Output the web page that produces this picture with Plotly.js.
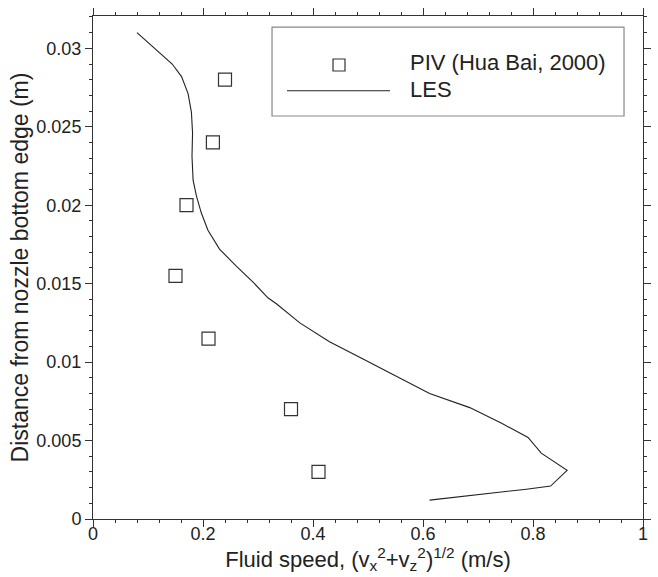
<!DOCTYPE html>
<html>
<head>
<meta charset="utf-8">
<script src="https://cdn.plot.ly/plotly-3.0.1.min.js"></script>
<style>
html,body{margin:0;padding:0;background:#fff;}
#chart{width:658px;height:577px;}
</style>
</head>
<body>
<div id="chart"></div>
<script>
// PIV measurements (Hua Bai, 2000)
const pivSpeed = [0.24, 0.218, 0.170, 0.150, 0.210, 0.360, 0.410];
const pivDist  = [0.028, 0.024, 0.020, 0.0155, 0.0115, 0.007, 0.003];

// LES profile
const lesSpeed = [0.080, 0.144, 0.161, 0.173, 0.179, 0.181, 0.180, 0.182, 0.188, 0.197,
                  0.209, 0.230, 0.261, 0.291, 0.318, 0.334, 0.376, 0.430, 0.491, 0.552,
                  0.612, 0.685, 0.743, 0.791, 0.815, 0.862, 0.832, 0.788, 0.612];
const lesDist  = [0.0310, 0.0290, 0.0282, 0.0271, 0.0259, 0.0246, 0.0231, 0.0216, 0.0206, 0.0195,
                  0.0184, 0.0172, 0.0161, 0.0151, 0.0141, 0.0137, 0.0125, 0.0113, 0.0102, 0.0091,
                  0.0080, 0.0071, 0.0061, 0.0052, 0.0042, 0.0031, 0.0021, 0.0019, 0.0012];

const legendNames = ["PIV (Hua Bai, 2000)", "LES"];
const xTitle = "Fluid speed, (v<sub>x</sub><sup>2</sup>+v<sub>z</sub><sup>2</sup>)<sup>1/2</sup> (m/s)";
const yTitle = "Distance from nozzle bottom edge (m)";

const FONT = "Liberation Sans, Arial, sans-serif";
const AX = "#333333";

const traces = [
  {
    x: pivSpeed, y: pivDist, type: "scatter", mode: "markers", name: legendNames[0],
    marker: {symbol: "square-open", size: 13, color: "#333333", line: {width: 1.2, color: "#333333"}},
    showlegend: false, hoverinfo: "x+y"
  },
  {
    x: lesSpeed, y: lesDist, type: "scatter", mode: "lines", name: legendNames[1],
    line: {color: "#222222", width: 1.1},
    showlegend: false, hoverinfo: "x+y"
  }
];

const axisCommon = {
  showgrid: false, zeroline: false, showline: true, linecolor: AX, linewidth: 1,
  mirror: "ticks", ticks: "outside", ticklen: 7, tickcolor: AX, tickwidth: 1,
  tickfont: {family: FONT, size: 18, color: "#222"}
};

const layout = {
  width: 658, height: 577,
  margin: {l: 93, r: 15, t: 16, b: 58},
  paper_bgcolor: "#ffffff", plot_bgcolor: "#ffffff",
  showlegend: false,
  font: {family: FONT, color: "#222"},
  xaxis: Object.assign({}, axisCommon, {
    range: [0, 1], tick0: 0, dtick: 0.2,
    ticklabelstandoff: -9,
    minor: {dtick: 0.04, ticklen: 3, tickcolor: AX, ticks: "outside"},
    title: {text: xTitle, font: {family: FONT, size: 22, color: "#222"}, standoff: 0}
  }),
  yaxis: Object.assign({}, axisCommon, {
    range: [0, 0.03206], tick0: 0, dtick: 0.005,
    minor: {dtick: 0.001, ticklen: 3, tickcolor: AX, ticks: "outside"},
    title: {text: yTitle, font: {family: FONT, size: 23, color: "#222"}, standoff: 1}
  }),
  shapes: [
    {type: "rect", xref: "paper", yref: "paper", x0: 0.3255, x1: 0.9655, y0: 0.8012, y1: 0.978,
     line: {color: "#888888", width: 1.2}, fillcolor: "#ffffff", layer: "above"},
    {type: "rect", xref: "paper", yref: "paper", x0: 0.4364, x1: 0.4582, y0: 0.8907, y1: 0.9145,
     line: {color: "#333333", width: 1.2}, fillcolor: "rgba(0,0,0,0)", layer: "above"},
    {type: "line", xref: "paper", yref: "paper", x0: 0.3527, x1: 0.54, y0: 0.8515, y1: 0.8515,
     line: {color: "#222222", width: 1.1}, layer: "above"}
  ],
  annotations: [
    {xref: "paper", yref: "paper", x: 0.5727, y: 0.9085, xanchor: "left", yanchor: "middle",
     text: legendNames[0], showarrow: false, font: {family: FONT, size: 22, color: "#222"}},
    {xref: "paper", yref: "paper", x: 0.5727, y: 0.853, xanchor: "left", yanchor: "middle",
     text: legendNames[1], showarrow: false, font: {family: FONT, size: 22, color: "#222"}}
  ]
};

Plotly.newPlot("chart", traces, layout, {displayModeBar: false, staticPlot: true});
</script>
</body>
</html>
